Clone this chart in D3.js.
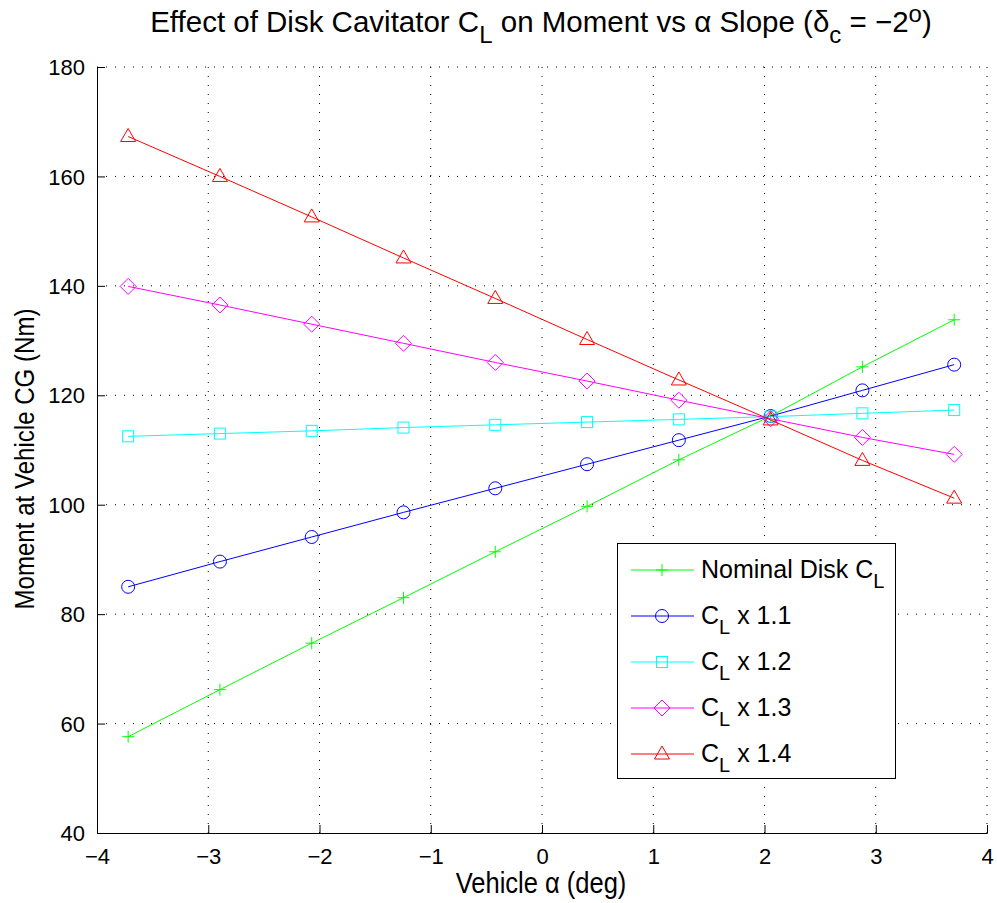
<!DOCTYPE html>
<html>
<head>
<meta charset="utf-8">
<script src="https://cdn.jsdelivr.net/npm/d3@7"></script>
<style>
  body { margin: 0; background: #fff; }
  text { font-family: "Liberation Sans", Arial, Helvetica, sans-serif; fill: #000; }
</style>
</head>
<body>
<svg id="chart" width="997" height="903"></svg>
<script>
var alphaDeg = [-3.72, -2.895, -2.07, -1.245, -0.42, 0.405, 1.23, 2.055, 2.88, 3.705];

var nominal = [57.6, 66.2, 74.7, 83.0, 91.4, 99.7, 108.2, 116.2, 125.2, 133.8];
var cl11 = [85.0, 89.6, 94.1, 98.6, 103.0, 107.4, 111.8, 116.2, 120.9, 125.6];
var cl12 = [112.5, 113.0, 113.5, 114.1, 114.6, 115.1, 115.6, 116.1, 116.7, 117.3];
var cl13 = [139.9, 136.5, 133.0, 129.5, 126.0, 122.6, 119.1, 115.7, 112.3, 109.2];
var cl14 = [167.3, 160.0, 152.6, 145.1, 137.7, 130.2, 122.8, 115.5, 108.1, 101.2];

var xTicks = [-4, -3, -2, -1, 0, 1, 2, 3, 4];
var yTicks = [40, 60, 80, 100, 120, 140, 160, 180];

var seriesList = [
  { values: nominal, color: "#00ff00", marker: "plus", label: "Nominal Disk " },
  { values: cl11, color: "#0000ff", marker: "circle", suffix: " x 1.1" },
  { values: cl12, color: "#00ffff", marker: "square", suffix: " x 1.2" },
  { values: cl13, color: "#ff00ff", marker: "diamond", suffix: " x 1.3" },
  { values: cl14, color: "#ff0000", marker: "triangle", suffix: " x 1.4" }
];

var svg = d3.select("#chart");
var plotL = 97, plotR = 987, plotT = 67, plotB = 833;

var x = d3.scaleLinear().domain([-4, 4]).range([plotL, plotR]);
var y = d3.scaleLinear().domain([40, 180]).range([plotB, plotT]);

// dotted grid
var grid = svg.append("g");
grid.selectAll(".gx").data(xTicks.slice(1)).enter().append("line")
  .attr("x1", d => x(d)).attr("x2", d => x(d))
  .attr("y1", plotB).attr("y2", plotT)
  .attr("stroke", "#000").attr("stroke-width", 1)
  .attr("stroke-dasharray", "1,8");
grid.selectAll(".gy").data(yTicks.slice(1)).enter().append("line")
  .attr("x1", plotL).attr("x2", plotR)
  .attr("y1", d => y(d)).attr("y2", d => y(d))
  .attr("stroke", "#000").attr("stroke-width", 1)
  .attr("stroke-dasharray", "1,8");

// axes
var xAxis = d3.axisBottom(x).tickValues(xTicks).tickSize(-8).tickPadding(15)
  .tickFormat(d => d < 0 ? "\u2212" + Math.abs(d) : d);
var yAxis = d3.axisLeft(y).tickValues(yTicks).tickSize(-8).tickPadding(12);

var gx = svg.append("g").attr("transform", "translate(0," + plotB + ")").call(xAxis);
var gy = svg.append("g").attr("transform", "translate(" + plotL + ",0)").call(yAxis);
[gx, gy].forEach(function(g) {
  g.select(".domain").attr("stroke", "#000").attr("stroke-width", 1);
  g.selectAll(".tick line").attr("stroke", "#000");
  g.selectAll(".tick text").attr("font-size", 22)
    .attr("font-family", "'Liberation Sans', Arial, sans-serif");
});
gy.selectAll(".tick text").attr("dy", "0.35em");

// lines and markers
var line = d3.line().x((d, i) => x(alphaDeg[i])).y(d => y(d));

function drawMarker(g, type, cx, cy, color) {
  var p;
  if (type === "plus") {
    p = g.append("path").attr("d", "M" + (cx - 6) + "," + cy + "H" + (cx + 6) + "M" + cx + "," + (cy - 6) + "V" + (cy + 6));
  } else if (type === "circle") {
    p = g.append("circle").attr("cx", cx).attr("cy", cy).attr("r", 6.5);
  } else if (type === "square") {
    p = g.append("rect").attr("x", cx - 5.5).attr("y", cy - 5.5).attr("width", 11).attr("height", 11);
  } else if (type === "diamond") {
    p = g.append("path").attr("d", "M" + cx + "," + (cy - 8) + "L" + (cx + 8) + "," + cy + "L" + cx + "," + (cy + 8) + "L" + (cx - 8) + "," + cy + "Z");
  } else {
    p = g.append("path").attr("d", "M" + cx + "," + (cy - 8) + "L" + (cx + 7.5) + "," + (cy + 5) + "L" + (cx - 7.5) + "," + (cy + 5) + "Z");
  }
  p.attr("stroke", color).attr("fill", "none").attr("stroke-width", 1);
}

seriesList.forEach(function(s) {
  var g = svg.append("g");
  g.append("path").datum(s.values).attr("d", line)
    .attr("fill", "none").attr("stroke", s.color).attr("stroke-width", 1);
  s.values.forEach(function(v, i) {
    drawMarker(g, s.marker, x(alphaDeg[i]), y(v), s.color);
  });
});

// legend
var leg = svg.append("g");
leg.append("rect").attr("x", 617.5).attr("y", 543.5).attr("width", 278).attr("height", 235)
  .attr("fill", "#fff").attr("stroke", "#000").attr("stroke-width", 1);
seriesList.forEach(function(s, i) {
  var ly = 570 + i * 46;
  leg.append("line").attr("x1", 631).attr("x2", 694).attr("y1", ly).attr("y2", ly)
    .attr("stroke", s.color).attr("stroke-width", 1);
  drawMarker(leg, s.marker, 662, ly, s.color);
  var t = leg.append("text").attr("x", 701).attr("y", ly + 8).attr("font-size", 25);
  if (i === 0) {
    t.append("tspan").text(s.label + "C");
    t.append("tspan").attr("dy", 10).attr("font-size", 20).text("L");
  } else {
    t.append("tspan").text("C");
    t.append("tspan").attr("dy", 10).attr("font-size", 20).text("L");
    t.append("tspan").attr("dy", -10).text(s.suffix);
  }
});

// title
var title = svg.append("text").attr("x", 541).attr("y", 32).attr("text-anchor", "middle").attr("font-size", 29.5);
title.append("tspan").text("Effect of Disk Cavitator C");
title.append("tspan").attr("dy", 11).attr("font-size", 24).text("L");
title.append("tspan").attr("dy", -11).text(" on Moment vs \u03b1 Slope (\u03b4");
title.append("tspan").attr("dy", 11).attr("font-size", 24).text("c");
title.append("tspan").attr("dy", -11).text(" = \u22122");
title.append("tspan").attr("dy", -10).attr("font-size", 24).text("o");
title.append("tspan").attr("dy", 10).text(")");

// axis labels (slightly condensed like the original)
svg.append("text").attr("transform", "translate(541,893) scale(0.88,1)")
  .attr("text-anchor", "middle").attr("font-size", 29)
  .text("Vehicle \u03b1 (deg)");
svg.append("text").attr("transform", "translate(34," + ((plotT + plotB) / 2 + 9) + ") rotate(-90) scale(0.86,1)")
  .attr("text-anchor", "middle").attr("font-size", 28)
  .text("Moment at Vehicle CG (Nm)");
</script>
</body>
</html>
